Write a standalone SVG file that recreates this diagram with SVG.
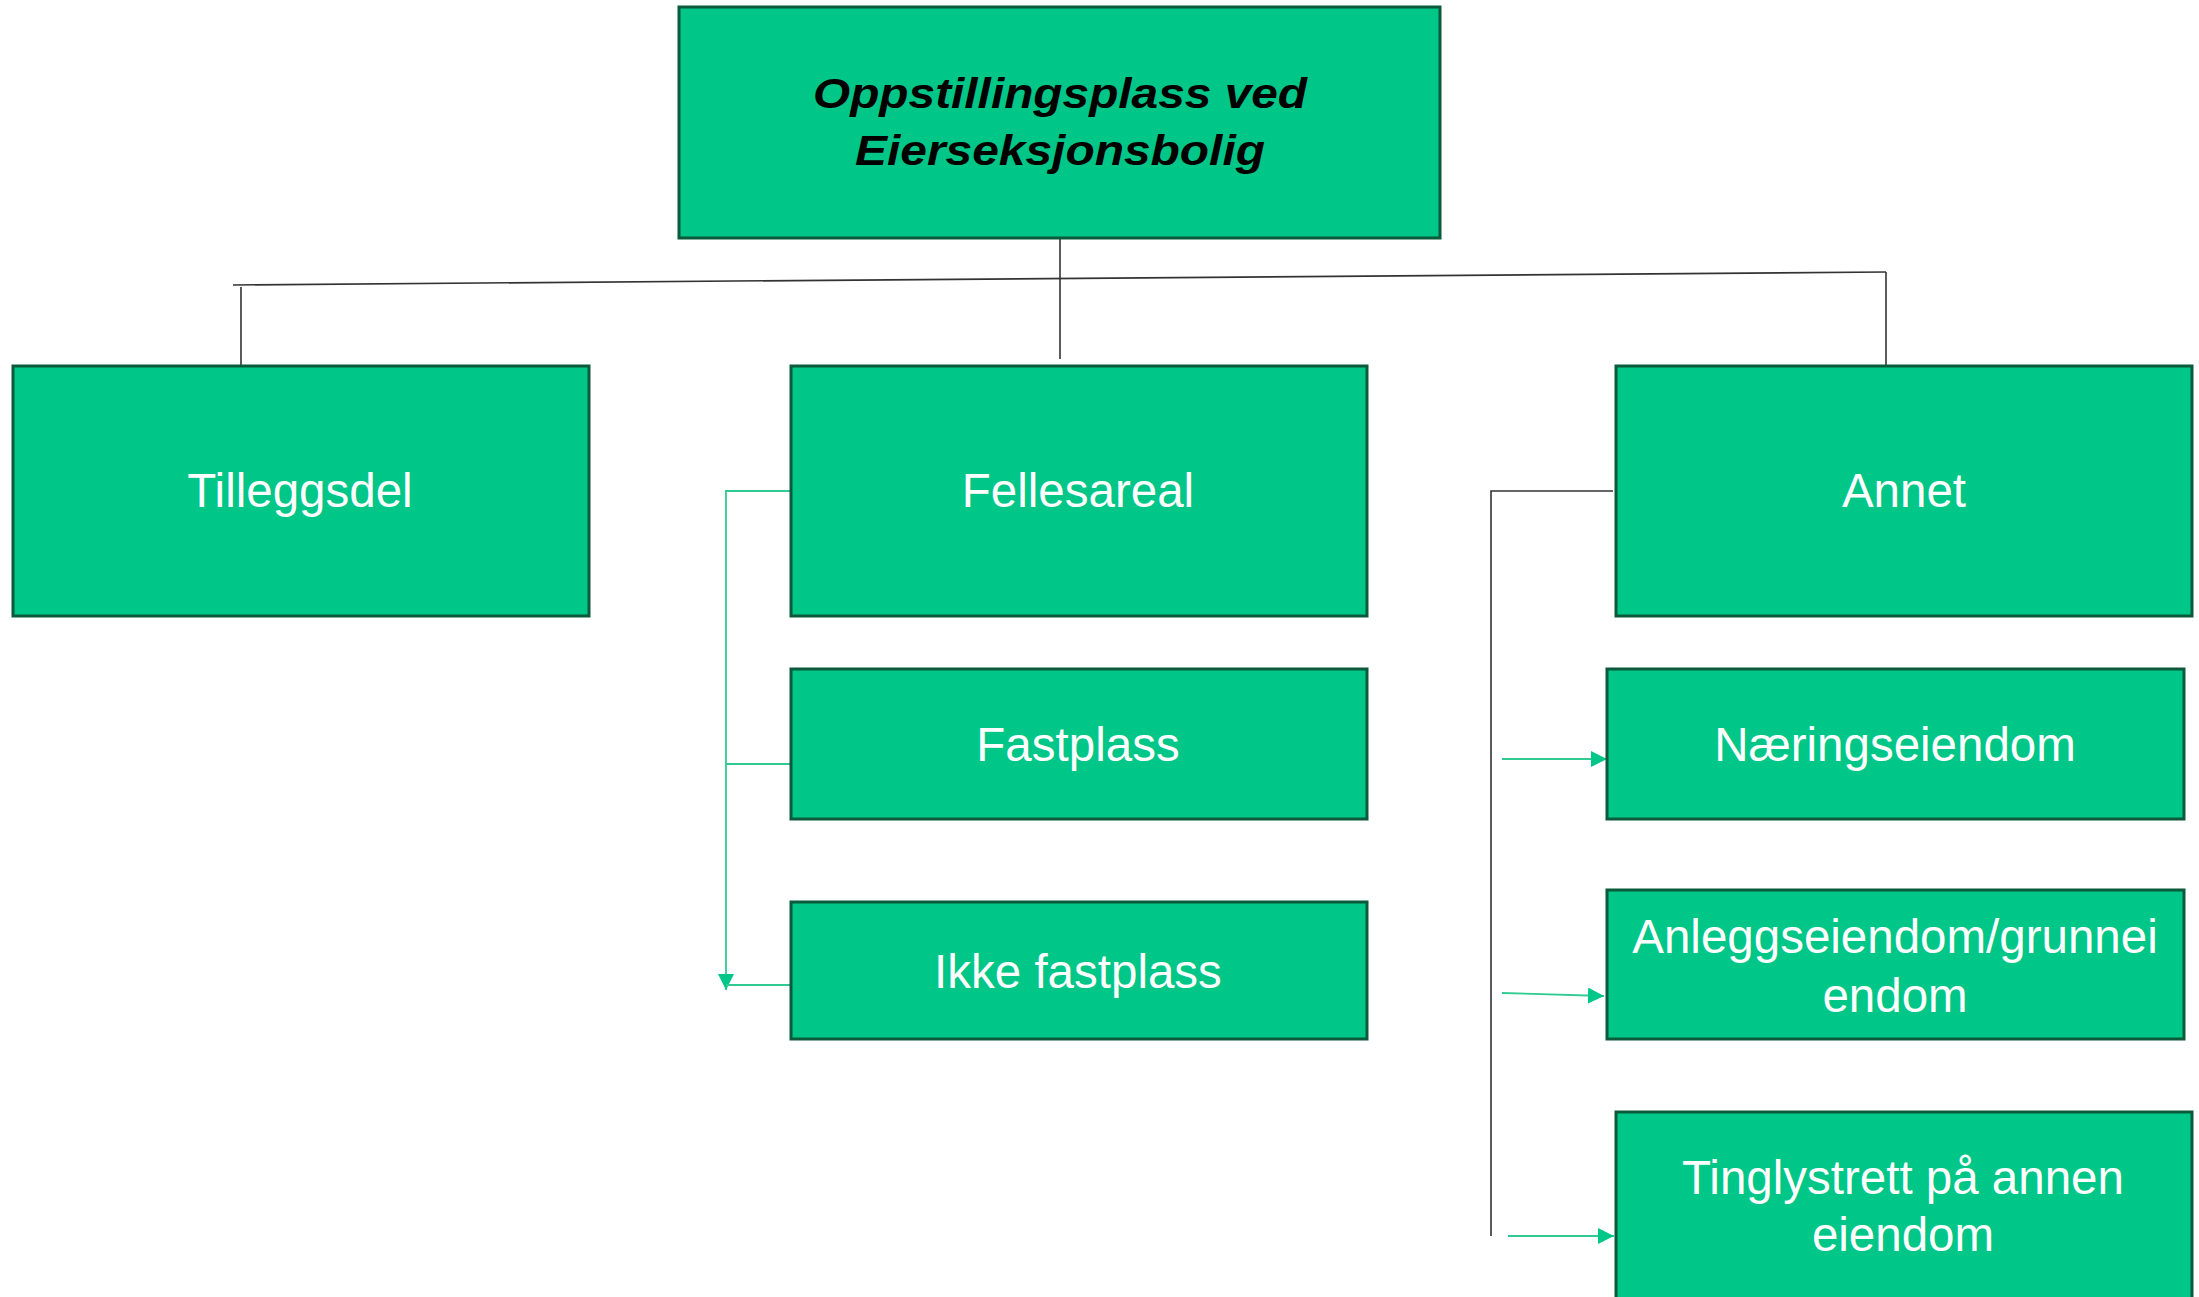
<svg xmlns="http://www.w3.org/2000/svg" width="2199" height="1297" viewBox="0 0 2199 1297">
<style>
.box{fill:#00C688;stroke:#0B5A3B;stroke-width:3}
.t{font-family:"Liberation Sans",Arial,sans-serif;font-size:47.5px;fill:#FFFFFF;text-anchor:middle}
.title{font-family:"Liberation Sans",Arial,sans-serif;font-size:42px;font-weight:bold;font-style:italic;fill:#000000;text-anchor:middle}
.blk{fill:none;stroke:#333333;stroke-width:1.6}
.grn{fill:none;stroke:#2FCB92;stroke-width:1.8}
</style>
<defs>
<marker id="ga" viewBox="0 0 10 10" refX="10" refY="5" markerWidth="16" markerHeight="16" markerUnits="userSpaceOnUse" orient="auto">
<path d="M0,0 L10,5 L0,10 Z" fill="#00C688"/>
</marker>
</defs>
<rect width="2199" height="1297" fill="#FFFFFF"/>
<g id="connectors">
<line class="blk" x1="1060" y1="238" x2="1060" y2="359"/>
<line class="blk" x1="233" y1="285" x2="1886" y2="272"/>
<line class="blk" x1="241" y1="287" x2="241" y2="366"/>
<line class="blk" x1="1886" y1="272" x2="1886" y2="373"/>
<polyline class="blk" points="1613,491 1491,491 1491,1236"/>
<polyline class="grn" points="791,491 726,491 726,990" marker-end="url(#ga)"/>
<line class="grn" x1="791" y1="764" x2="726" y2="764"/>
<line class="grn" x1="791" y1="985" x2="726" y2="985"/>
<line class="grn" x1="1502" y1="759" x2="1607" y2="759" marker-end="url(#ga)"/>
<line class="grn" x1="1502" y1="993" x2="1604" y2="996" marker-end="url(#ga)"/>
<line class="grn" x1="1508" y1="1236" x2="1614" y2="1236" marker-end="url(#ga)"/>
</g>
<g id="root">
<rect class="box" x="679" y="7" width="761" height="231"/>
<text class="title" x="1060" y="108" textLength="494" lengthAdjust="spacingAndGlyphs">Oppstillingsplass ved</text>
<text class="title" x="1060" y="165" textLength="410" lengthAdjust="spacingAndGlyphs">Eierseksjonsbolig</text>
</g>
<g id="tilleggsdel">
<rect class="box" x="13" y="366" width="576" height="250"/>
<text class="t" x="300" y="507">Tilleggsdel</text>
</g>
<g id="fellesareal">
<rect class="box" x="791" y="366" width="576" height="250"/>
<text class="t" x="1078" y="507">Fellesareal</text>
</g>
<g id="annet">
<rect class="box" x="1616" y="366" width="576" height="250"/>
<text class="t" x="1904" y="507">Annet</text>
</g>
<g id="fastplass">
<rect class="box" x="791" y="669" width="576" height="150"/>
<text class="t" x="1078" y="761">Fastplass</text>
</g>
<g id="ikke-fastplass">
<rect class="box" x="791" y="902" width="576" height="137"/>
<text class="t" x="1078" y="988">Ikke fastplass</text>
</g>
<g id="naeringseiendom">
<rect class="box" x="1607" y="669" width="577" height="150"/>
<text class="t" x="1895" y="761">Næringseiendom</text>
</g>
<g id="anleggseiendom">
<rect class="box" x="1607" y="890" width="577" height="149"/>
<text class="t" x="1895" y="953">Anleggseiendom/grunnei</text>
<text class="t" x="1895" y="1012">endom</text>
</g>
<g id="tinglystrett">
<rect class="box" x="1616" y="1112" width="576" height="190"/>
<text class="t" x="1903" y="1194">Tinglystrett på annen</text>
<text class="t" x="1903" y="1251">eiendom</text>
</g>
</svg>
